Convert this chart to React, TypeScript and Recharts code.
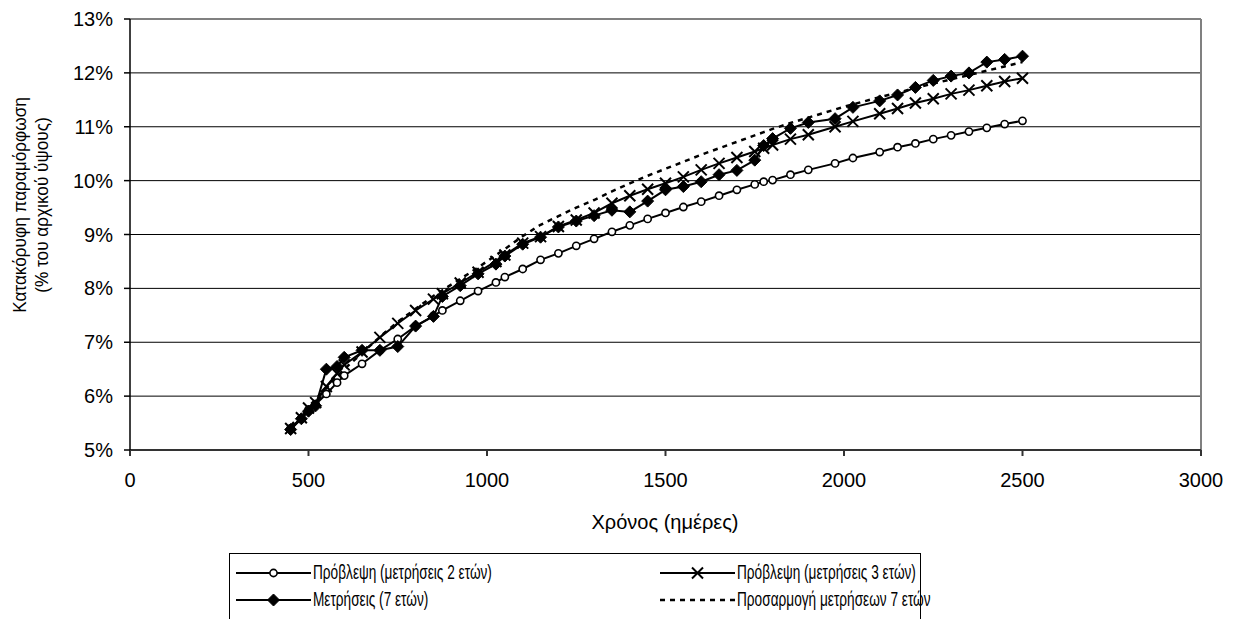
import React from 'react';
import { LineChart, Line, XAxis, YAxis, CartesianGrid, ReferenceLine, Label } from 'recharts';

// Days at which the markers are placed
const days = [450, 480, 500, 520, 550, 580, 600, 650, 700, 750, 800, 850, 875, 925, 975, 1025, 1050, 1100, 1150, 1200, 1250, 1300, 1350, 1400, 1450, 1500, 1550, 1600, 1650, 1700, 1750, 1775, 1800, 1850, 1900, 1975, 2025, 2100, 2150, 2200, 2250, 2300, 2350, 2400, 2450, 2500];

// Πρόβλεψη (μετρήσεις 2 ετών)
const pred2y = [5.40, 5.58, 5.75, 5.85, 6.04, 6.25, 6.38, 6.60, 6.85, 7.06, 7.30, 7.49, 7.59, 7.77, 7.95, 8.11, 8.21, 8.36, 8.53, 8.65, 8.79, 8.92, 9.05, 9.17, 9.29, 9.40, 9.51, 9.61, 9.72, 9.83, 9.93, 9.98, 10.01, 10.11, 10.20, 10.32, 10.42, 10.53, 10.62, 10.69, 10.77, 10.84, 10.91, 10.98, 11.05, 11.11];

// Πρόβλεψη (μετρήσεις 3 ετών)
const pred3y = [5.40, 5.60, 5.78, 5.88, 6.18, 6.42, 6.58, 6.82, 7.09, 7.35, 7.59, 7.80, 7.90, 8.10, 8.30, 8.50, 8.62, 8.84, 8.96, 9.15, 9.27, 9.40, 9.58, 9.72, 9.84, 9.95, 10.07, 10.20, 10.32, 10.43, 10.54, 10.60, 10.66, 10.77, 10.85, 11.00, 11.10, 11.24, 11.34, 11.44, 11.52, 11.61, 11.68, 11.76, 11.84, 11.90];

// Μετρήσεις (7 ετών)
const measured7y = [5.38, 5.58, 5.72, 5.82, 6.50, 6.55, 6.72, 6.85, 6.85, 6.92, 7.30, 7.48, 7.85, 8.05, 8.27, 8.45, 8.60, 8.82, 8.95, 9.14, 9.25, 9.35, 9.45, 9.42, 9.62, 9.83, 9.89, 9.98, 10.11, 10.19, 10.38, 10.65, 10.78, 10.97, 11.08, 11.15, 11.36, 11.48, 11.59, 11.73, 11.86, 11.94, 12.00, 12.20, 12.25, 12.31];

// Προσαρμογή μετρήσεων 7 ετών
const fitDays = [450, 500, 550, 600, 650, 700, 750, 800, 850, 900, 950, 1000, 1050, 1100, 1150, 1200, 1250, 1300, 1350, 1400, 1450, 1500, 1550, 1600, 1650, 1700, 1750, 1800, 1850, 1900, 1950, 2000, 2050, 2100, 2150, 2200, 2250, 2300, 2350, 2400, 2450, 2500];
const fitValues = [5.45, 5.80, 6.15, 6.50, 6.80, 7.10, 7.38, 7.62, 7.86, 8.07, 8.28, 8.50, 8.73, 8.97, 9.18, 9.34, 9.50, 9.64, 9.80, 9.95, 10.09, 10.22, 10.35, 10.48, 10.60, 10.72, 10.84, 10.96, 11.07, 11.17, 11.27, 11.37, 11.46, 11.55, 11.63, 11.72, 11.80, 11.88, 11.96, 12.04, 12.12, 12.20];

const xTicks = [0, 500, 1000, 1500, 2000, 2500, 3000];
const yTicks = [5, 6, 7, 8, 9, 10, 11, 12, 13];

const seriesNames = [
  'Πρόβλεψη (μετρήσεις 2 ετών)',
  'Πρόβλεψη (μετρήσεις 3 ετών)',
  'Μετρήσεις (7 ετών)',
  'Προσαρμογή μετρήσεων 7 ετών',
];

const pred2Data = days.map((d, i) => ({ x: d, y: pred2y[i] }));
const pred3Data = days.map((d, i) => ({ x: d, y: pred3y[i] }));
const measData = days.map((d, i) => ({ x: d, y: measured7y[i] }));
const fitData = fitDays.map((d, i) => ({ x: d, y: fitValues[i] }));

const FONT = '"Liberation Sans", Arial, sans-serif';

const CircleMark = ({ cx, cy }: any) => (
  <circle cx={cx} cy={cy} r={3.6} fill="#fff" stroke="#000" strokeWidth={1.6} />
);
const CrossMark = ({ cx, cy }: any) => (
  <path d={`M${cx - 5.5},${cy - 5.5}L${cx + 5.5},${cy + 5.5}M${cx - 5.5},${cy + 5.5}L${cx + 5.5},${cy - 5.5}`} stroke="#000" strokeWidth={2} fill="none" />
);
const DiamondMark = ({ cx, cy }: any) => (
  <path d={`M${cx},${cy - 6}L${cx + 6},${cy}L${cx},${cy + 6}L${cx - 6},${cy}Z`} fill="#000" stroke="#000" strokeWidth={1} />
);

const LEG_SX = 0.7;
const KEY_LEN = 75;

const LegendEntry = ({ x, y, kind, name }: { x: number; y: number; kind: string; name: string }) => (
  <g>
    {kind === 'dash' ? (
      <line x1={x} y1={y} x2={x + KEY_LEN} y2={y} stroke="#000" strokeWidth={2.5} strokeDasharray="5 5" />
    ) : (
      <line x1={x} y1={y} x2={x + KEY_LEN} y2={y} stroke="#000" strokeWidth={2} />
    )}
    {kind === 'circle' && <CircleMark cx={x + KEY_LEN / 2} cy={y} />}
    {kind === 'cross' && <CrossMark cx={x + KEY_LEN / 2} cy={y} />}
    {kind === 'diamond' && <DiamondMark cx={x + KEY_LEN / 2} cy={y} />}
    <g transform={`translate(${x + KEY_LEN + 2},${y}) scale(${LEG_SX},1)`}>
      <text x={0} y={0} dominantBaseline="central" fontSize={19.5} fontFamily={FONT} fill="#000">
        {name}
      </text>
    </g>
  </g>
);

export default function App() {
  return (
    <div style={{ position: 'absolute', left: 0, top: 0, width: 1233, height: 619, background: '#fff', fontFamily: FONT, overflow: 'hidden' }}>
      <LineChart width={1233} height={619} margin={{ top: 19, right: 32, left: 0, bottom: 0 }}>
        <CartesianGrid horizontal={true} vertical={false} stroke="#000" strokeWidth={1} />
        <XAxis
          type="number"
          dataKey="x"
          domain={[0, 3000]}
          ticks={xTicks}
          interval={0}
          height={169}
          tickSize={6}
          tickMargin={17}
          stroke="#333"
          strokeWidth={2}
          tick={{ fill: '#000', fontSize: 20, fontFamily: FONT }}
          allowDataOverflow
        >
          <Label
            content={() => (
              <text x={665} y={522} textAnchor="middle" dominantBaseline="central" fontSize={20} fontFamily={FONT} fill="#000">
                Χρόνος (ημέρες)
              </text>
            )}
          />
        </XAxis>
        <YAxis
          type="number"
          domain={[5, 13]}
          ticks={yTicks}
          interval={0}
          width={130}
          tickSize={6}
          tickMargin={11}
          stroke="#000"
          strokeWidth={1.5}
          tickFormatter={(v: number) => `${v}%`}
          tick={{ fill: '#000', fontSize: 20, fontFamily: FONT }}
          allowDataOverflow
        />
        <ReferenceLine y={13} stroke="#808080" strokeWidth={2} />
        <ReferenceLine x={3000} stroke="#808080" strokeWidth={2} />
        <Line data={fitData} dataKey="y" name={seriesNames[3]} stroke="#000" strokeWidth={2.5} strokeDasharray="5 5" dot={false} activeDot={false} isAnimationActive={false} />
        <Line data={pred2Data} dataKey="y" name={seriesNames[0]} stroke="#000" strokeWidth={2} dot={(p: any) => <CircleMark key={`c${p.index}`} cx={p.cx} cy={p.cy} />} activeDot={false} isAnimationActive={false} />
        <Line data={pred3Data} dataKey="y" name={seriesNames[1]} stroke="#000" strokeWidth={2} dot={(p: any) => <CrossMark key={`x${p.index}`} cx={p.cx} cy={p.cy} />} activeDot={false} isAnimationActive={false} />
        <Line data={measData} dataKey="y" name={seriesNames[2]} stroke="#000" strokeWidth={2} dot={(p: any) => <DiamondMark key={`d${p.index}`} cx={p.cx} cy={p.cy} />} activeDot={false} isAnimationActive={false} />
      </LineChart>
      {/* Y axis title and legend */}
      <svg width={1233} height={619} style={{ position: 'absolute', left: 0, top: 0, pointerEvents: 'none' }}>
        <g transform="translate(20,205) rotate(-90) scale(0.93,1)">
          <text x={0} y={0} textAnchor="middle" dominantBaseline="central" fontSize={18.5} fontFamily={FONT} fill="#000">
            Κατακόρυφη παραμόρφωση
          </text>
        </g>
        <g transform="translate(42,205) rotate(-90) scale(0.93,1)">
          <text x={0} y={0} textAnchor="middle" dominantBaseline="central" fontSize={18.5} fontFamily={FONT} fill="#000">
            (% του αρχικού ύψους)
          </text>
        </g>
        <rect x={229.5} y={553.5} width={691} height={80} fill="#fff" stroke="#000" strokeWidth={1} />
        <LegendEntry x={236} y={573} kind="circle" name={seriesNames[0]} />
        <LegendEntry x={660} y={573} kind="cross" name={seriesNames[1]} />
        <LegendEntry x={236} y={600} kind="diamond" name={seriesNames[2]} />
        <LegendEntry x={660} y={600} kind="dash" name={seriesNames[3]} />
      </svg>
    </div>
  );
}
